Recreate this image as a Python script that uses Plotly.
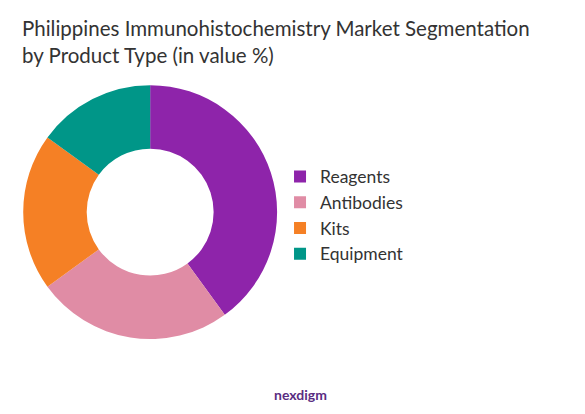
import plotly.graph_objects as go

labels = ["Reagents", "Antibodies", "Kits", "Equipment"]
values = [40, 25, 20, 15]
colors = ["#8E24AA", "#E08CA5", "#F58025", "#009688"]

fig = go.Figure(go.Pie(
    labels=labels, values=values, hole=0.5, sort=False, direction="clockwise",
    rotation=0, marker=dict(colors=colors), textinfo="none", hoverinfo="label+percent",
    domain=dict(x=[0.026, 0.46], y=[0.2, 0.814]),
))

fig.update_layout(
    width=585, height=414,
    margin=dict(l=0, r=0, t=0, b=0),
    paper_bgcolor="white",
    font=dict(family="Lato, Open Sans, sans-serif", color="#333"),
    legend=dict(x=0.465, y=0.5, xanchor="left", yanchor="middle",
                font=dict(size=17.5, color="#333"), itemwidth=30, tracegroupgap=0),
)
fig.add_annotation(text="Philippines Immunohistochemistry Market Segmentation<br>by Product Type (in value %)",
                   x=0.02, y=0.985, xref="paper", yref="paper", xanchor="left", yanchor="top",
                   align="left", showarrow=False, font=dict(size=20.5, color="#333"))
fig.add_annotation(text="<b>nexdigm</b>", x=0.5, y=0.04, xref="paper", yref="paper",
                   showarrow=False, font=dict(size=14, color="#5a2d82"))
fig.write_html("out.html")
